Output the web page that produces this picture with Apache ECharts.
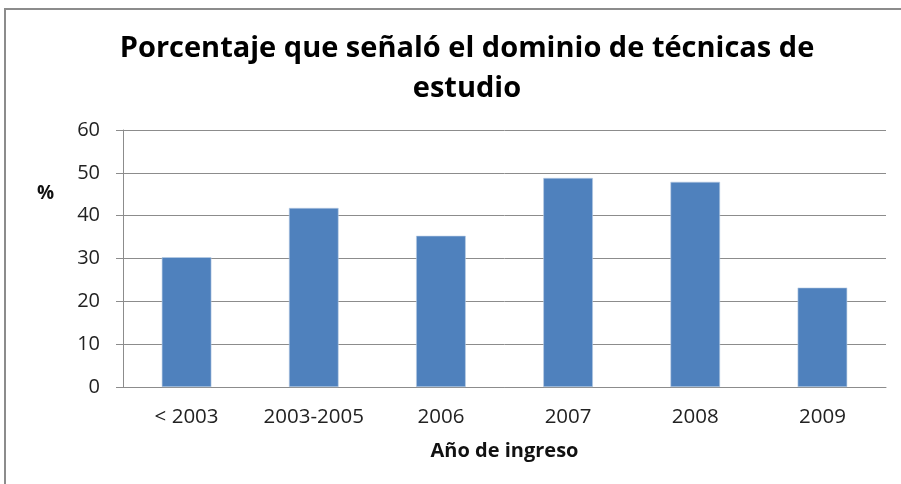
<!DOCTYPE html>
<html>
<head>
<meta charset="utf-8">
<script src="https://cdn.jsdelivr.net/npm/echarts@6/dist/echarts.min.js"></script>
<style>
  html, body { margin: 0; padding: 0; background: #fff; }
  #chart { width: 901px; height: 484px; }
</style>
</head>
<body>
<div id="chart"></div>
<script>
// Año de ingreso categories and percentages
const categories = ['< 2003', '2003-2005', '2006', '2007', '2008', '2009'];
const percentages = [30.3, 41.8, 35.3, 48.8, 47.9, 23.2];
const yTicks = [0, 10, 20, 30, 40, 50, 60];

const FONT = '"Open Sans", Lato, sans-serif';

const chart = echarts.init(document.getElementById('chart'));
chart.setOption({
    animation: false,
    backgroundColor: '#fff',
    title: {
        text: 'Porcentaje que señaló el dominio de técnicas de\nestudio',
        left: 462,
        top: 24,
        textAlign: 'center',
        textStyle: {
            fontFamily: FONT,
            fontWeight: 'bold',
            fontSize: 29,
            lineHeight: 40,
            color: '#000',
        },
    },
    graphic: [
        {
            // outer chart frame, running past the right and bottom edges
            type: 'rect',
            shape: { x: 5, y: 9, width: 920, height: 500 },
            style: { fill: 'none', stroke: '#8c8c8c', lineWidth: 2 },
            silent: true,
        },
        {
            type: 'text',
            left: 37,
            top: 184,
            style: { text: '%', font: 'bold 19px ' + FONT, fill: '#111' },
        },
    ],
    grid: { left: 123, right: 15, top: 130, bottom: 97 },
    xAxis: {
        type: 'category',
        data: categories,
        name: 'Año de ingreso',
        nameLocation: 'middle',
        nameGap: 54,
        nameTextStyle: { fontFamily: FONT, fontWeight: 'bold', fontSize: 20, color: '#111' },
        axisLine: { lineStyle: { color: '#8c8c8c', width: 1 } },
        axisTick: { show: false },
        axisLabel: { interval: 0, fontFamily: FONT, fontSize: 20.5, color: '#222', margin: 20 },
    },
    yAxis: {
        type: 'value',
        min: yTicks[0],
        max: yTicks[yTicks.length - 1],
        interval: 10,
        axisLine: { show: true, lineStyle: { color: '#8c8c8c', width: 1 } },
        axisTick: { show: true, length: 7, lineStyle: { color: '#8c8c8c' } },
        axisLabel: { fontFamily: FONT, fontSize: 20, color: '#222', margin: 23 },
        splitLine: { lineStyle: { color: '#8c8c8c', width: 1 } },
    },
    series: [
        {
            type: 'bar',
            data: percentages,
            barWidth: '39%',
            itemStyle: { color: '#4f81bd', borderColor: '#b8cce4', borderWidth: 0.6 },
        },
    ],
});
</script>
</body>
</html>
